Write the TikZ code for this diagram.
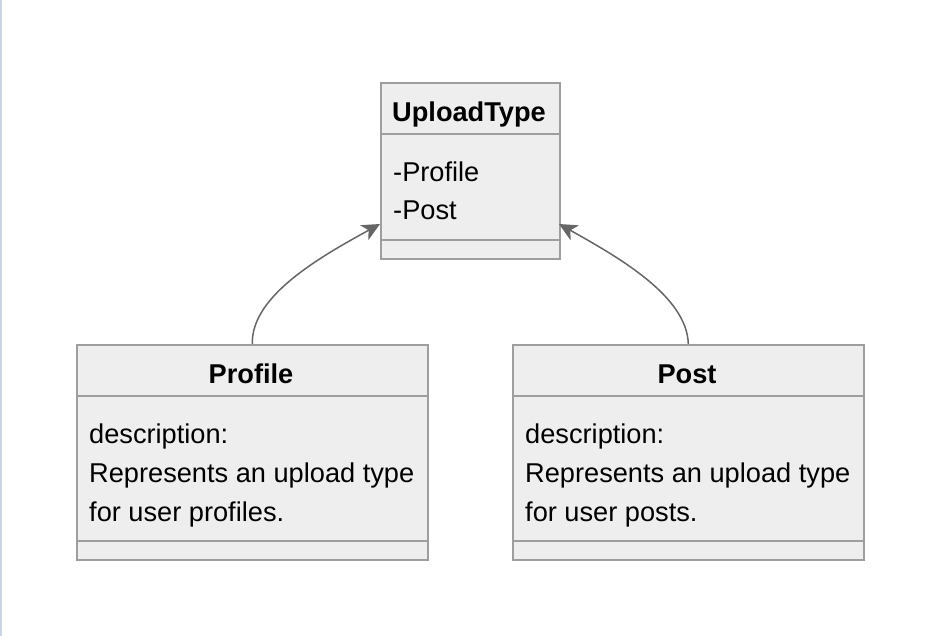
\documentclass[tikz,border=0pt]{standalone}
\usepackage{fontspec}
\setmainfont{Liberation Sans}
\usetikzlibrary{arrows.meta}
\definecolor{boxfill}{HTML}{EEEEEE}
\definecolor{boxline}{HTML}{9E9E9E}
\definecolor{arrline}{HTML}{666666}
\definecolor{edgeline}{HTML}{C9D5E2}

\tikzset{
    classbox/.style={draw=boxline, fill=boxfill, line width=1.6pt, inner sep=0pt, anchor=north west},
    divider/.style={draw=boxline, line width=1.6pt},
    txt/.style={inner sep=0pt, font=\fontsize{27.2}{39}\selectfont},
    title/.style={txt, font=\fontsize{27.2}{39}\selectfont\bfseries, anchor=base},
    member/.style={txt, anchor=base west},
    inherit/.style={draw=arrline, line width=1.5pt, -{Stealth[length=18pt, width=17pt, inset=5pt]}}
}

\begin{document}
\begin{tikzpicture}[x=1pt, y=-1pt]
    \useasboundingbox (0,0) rectangle (947,636);
    \draw[edgeline, line width=1.5pt] (0.75,0) -- (0.75,636);

    % UploadType
    \node[classbox, minimum width=179pt, minimum height=176pt] (ut) at (380,82) {};
    \draw[divider] (380,134) -- (559,134);
    \draw[divider] (380,240) -- (559,240);
    \node[title] (utTitle) at (469,122) {UploadType};
    \node[member] (utProfile) at (393,182) {-Profile};
    \node[member] (utPost) at (393,220) {-Post};

    % Profile
    \node[classbox, minimum width=351pt, minimum height=215pt] (prof) at (76,344) {};
    \draw[divider] (76,396) -- (427,396);
    \draw[divider] (76,541) -- (427,541);
    \node[title] (profTitle) at (251,383) {Profile};
    \node[member] (profA) at (89,443) {description:};
    \node[member] (profB) at (89,482) {Represents an upload type};
    \node[member] (profC) at (89,521) {for user profiles.};

    % Post
    \node[classbox, minimum width=351pt, minimum height=215pt] (post) at (512,344) {};
    \draw[divider] (512,396) -- (863,396);
    \draw[divider] (512,541) -- (863,541);
    \node[title] (postTitle) at (687,383) {Post};
    \node[member] (postA) at (525,443) {description:};
    \node[member] (postB) at (525,482) {Represents an upload type};
    \node[member] (postC) at (525,521) {for user posts.};

    % inheritance
    \coordinate (utL) at (380,224);
    \coordinate (utR) at (559,224);
    \draw[inherit] (prof.north) .. controls (251,296) and (320,257) .. (utL);
    \draw[inherit] (post.north) .. controls (687,296) and (618,257) .. (utR);
\end{tikzpicture}
\end{document}
